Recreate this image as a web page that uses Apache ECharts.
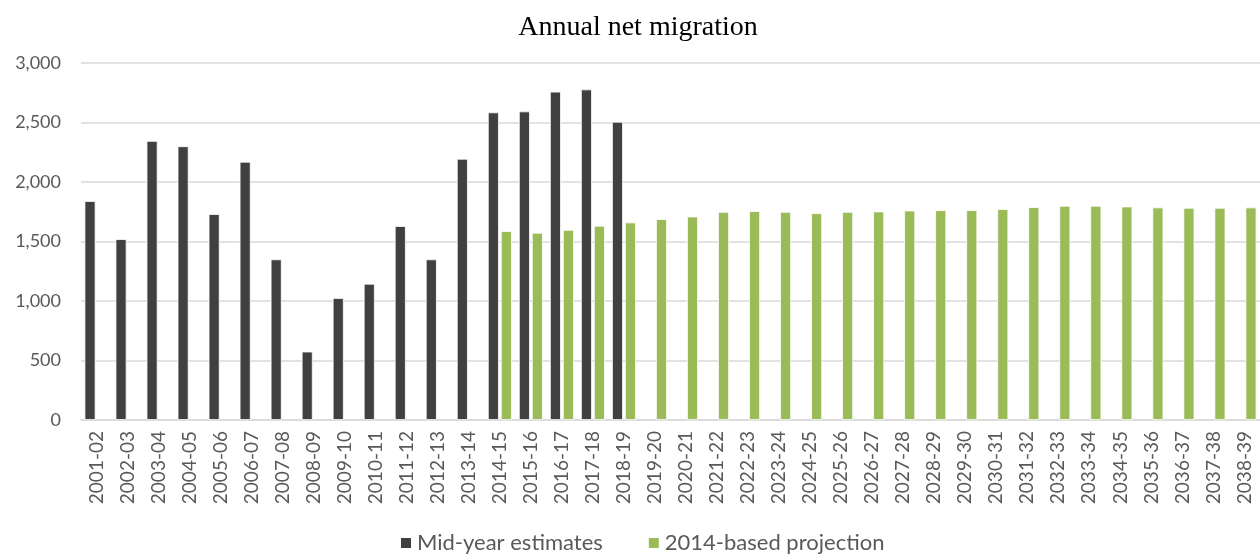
<!DOCTYPE html>
<html>
<head>
<meta charset="utf-8">
<script src="https://cdn.jsdelivr.net/npm/echarts@6/dist/echarts.min.js"></script>
<style>html,body{margin:0;padding:0;background:#fff}#c{width:1260px;height:559px}</style>
</head>
<body>
<div id="c"></div>
<script>
const categories = ["2001-02","2002-03","2003-04","2004-05","2005-06","2006-07","2007-08","2008-09","2009-10","2010-11","2011-12","2012-13","2013-14","2014-15","2015-16","2016-17","2017-18","2018-19","2019-20","2020-21","2021-22","2022-23","2023-24","2024-25","2025-26","2026-27","2027-28","2028-29","2029-30","2030-31","2031-32","2032-33","2033-34","2034-35","2035-36","2036-37","2037-38","2038-39"];
const midYearEstimates = [1840,1520,2345,2300,1730,2170,1350,575,1025,1145,1630,1350,2195,2585,2593,2759,2778,2506,null,null,null,null,null,null,null,null,null,null,null,null,null,null,null,null,null,null,null,null];
const projection2014 = [null,null,null,null,null,null,null,null,null,null,null,null,null,1587,1573,1598,1632,1660,1688,1710,1749,1755,1749,1738,1749,1752,1760,1763,1763,1772,1789,1800,1800,1794,1786,1783,1783,1786];
const yTicks = {min:0, max:3000, interval:500};

const chart = echarts.init(document.getElementById('c'));
const font = 'Lato';
chart.setOption({
  animation:false,
  title:{text:'Annual net migration', left:633, textAlign:'center', top:9,
    textStyle:{fontFamily:'Liberation Serif', fontSize:28, fontWeight:'normal', color:'#000'}},
  legend:{bottom:0, left:394, itemWidth:12, itemHeight:12, itemGap:44,
    icon:'rect', textStyle:{fontFamily:font, fontSize:22, color:'#595959'},
    data:['Mid-year estimates','2014-based projection']},
  grid:{left:81, top:63, width:1190, height:357, containLabel:false},
  xAxis:{type:'category', data:categories,
    axisLine:{lineStyle:{color:'#d9d9d9', width:1.5}},
    axisTick:{show:false},
    axisLabel:{interval:0, rotate:90, margin:11, fontFamily:font, fontSize:19, color:'#595959'}},
  yAxis:{type:'value', min:yTicks.min, max:yTicks.max, interval:yTicks.interval,
    axisLine:{show:false}, axisTick:{show:false},
    splitLine:{lineStyle:{color:'#d9d9d9', width:1.5}},
    axisLabel:{margin:20, fontFamily:font, fontSize:18, color:'#595959',
      formatter:v=>v.toLocaleString('en-US')}},
  series:[
    {name:'Mid-year estimates', type:'bar', data:midYearEstimates, barWidth:11, barGap:'18%',
      itemStyle:{color:'#404040', borderColor:'#fff', borderWidth:0.8}},
    {name:'2014-based projection', type:'bar', data:projection2014, barWidth:11,
      itemStyle:{color:'#9bbb59', borderColor:'#fff', borderWidth:0.8}}
  ]
});
</script>
</body>
</html>
